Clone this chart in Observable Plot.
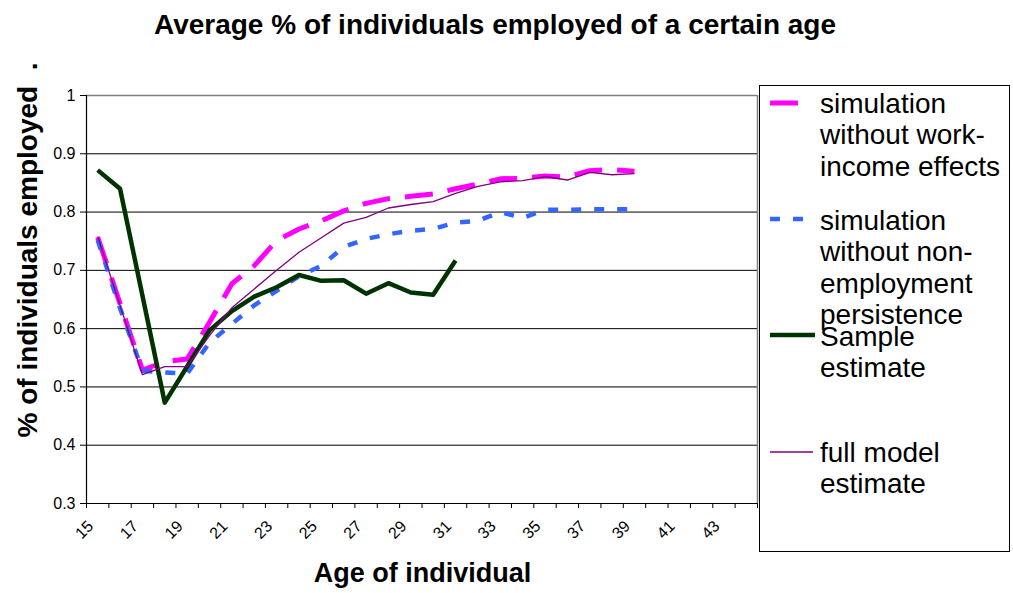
<!DOCTYPE html>
<html><head><meta charset="utf-8">
<script src="https://cdn.jsdelivr.net/npm/d3@7"></script>
<script src="https://cdn.jsdelivr.net/npm/@observablehq/plot@0.6"></script>
<style>
body{margin:0;background:#fff;font-family:"Liberation Sans",Arial,sans-serif;}
#wrap{position:relative;width:1013px;height:593px;overflow:hidden;}
#wrap > svg{position:absolute;left:0;top:0;}
</style></head><body><div id="wrap"></div>
<script>
// ---- data ----
const ages = d3.range(15, 45);                 // categories 15..44
const xTickLabels = [15,17,19,21,23,25,27,29,31,33,35,37,39,41,43];
const yTicks = [0.3,0.4,0.5,0.6,0.7,0.8,0.9,1];
const seriesNames = [
  "simulation without work-income effects",
  "simulation without non-employment persistence",
  "Sample estimate",
  "full model estimate"
];
// values from age 15 onward
const simNoWorkIncome = [0.757,0.643,0.529,0.543,0.548,0.611,0.677,0.708,0.751,0.771,0.785,0.802,0.815,0.823,0.827,0.831,0.840,0.848,0.857,0.858,0.862,0.860,0.871,0.873,0.870];
const simNoPersistence = [0.752,0.635,0.528,0.525,0.523,0.576,0.608,0.640,0.665,0.690,0.708,0.740,0.754,0.762,0.768,0.771,0.782,0.785,0.800,0.790,0.804,0.804,0.805,0.805,0.805];
const sampleEstimate = [0.872,0.840,0.657,0.473,0.535,0.597,0.630,0.655,0.671,0.692,0.682,0.683,0.660,0.678,0.662,0.658,0.717];
const fullModel = [0.758,0.640,0.521,0.535,0.535,0.588,0.636,0.668,0.700,0.731,0.756,0.781,0.791,0.807,0.813,0.818,0.832,0.844,0.852,0.854,0.861,0.855,0.868,0.864,0.866];

const seriesValues = [simNoWorkIncome, simNoPersistence, sampleEstimate, fullModel];
const seriesStyle = [
  {stroke:"#FF00FF", strokeWidth:5, dash:"28,15"},
  {stroke:"#3366FF", strokeWidth:4.5, dash:"10,13"},
  {stroke:"#003300", strokeWidth:4.5, dash:null},
  {stroke:"#800080", strokeWidth:1.3, dash:null}
];
const toRows = vals => vals.map((v,i) => ({age: ages[i], value: v}));

const boundaries = d3.range(14.5, 45, 1);
const yFmt = d => d === 1 ? "1" : d3.format(".1f")(d);

const lineMarks = seriesValues.map((vals, k) => Plot.line(toRows(vals), {
  x: "age", y: "value",
  stroke: seriesStyle[k].stroke,
  strokeWidth: seriesStyle[k].strokeWidth,
  strokeDasharray: seriesStyle[k].dash || undefined,
  strokeLinecap: "butt",
  strokeLinejoin: "round"
}));

const chart = Plot.plot({
  width: 1013, height: 593,
  marginLeft: 86, marginRight: 256, marginTop: 95, marginBottom: 90,
  style: {fontFamily: "'Liberation Sans', Arial, sans-serif", background: "transparent", color: "#000", overflow: "visible"},
  x: {type: "linear", domain: [14.5, 44.5]},
  y: {domain: [0.3, 1]},
  marks: [
    Plot.ruleY(yTicks, {stroke: "#000", strokeWidth: 1}),
    Plot.ruleY([1], {stroke: "#808080", strokeWidth: 1.5}),
    Plot.ruleX([44.5], {stroke: "#808080", strokeWidth: 1.5}),
    Plot.ruleX([14.5], {stroke: "#000", strokeWidth: 1.2}),
    // y axis ticks + labels
    Plot.axisY({ticks: yTicks, tickSize: 6, tickFormat: () => "", label: null}),
    Plot.text(yTicks, {x: 14.5, y: d => d, text: yFmt, textAnchor: "end", dx: -11,
      fontSize: 16, fill: "#000"}),
    // x axis: ticks at category boundaries, labels at every other category
    Plot.axisX({ticks: boundaries, tickSize: 5, tickFormat: () => "", label: null}),
    Plot.text(xTickLabels, {x: d => d, y: 0.3, text: d => String(d), rotate: -45,
      textAnchor: "end", dx: -7, dy: 20, fontSize: 16, fill: "#000"}),
    ...lineMarks
  ]
});
document.getElementById("wrap").appendChild(chart);

// ---- overlay: title, axis labels, legend ----
const svg = d3.select("#wrap").append("svg")
  .attr("width", 1013).attr("height", 593)
  .style("font-family", "'Liberation Sans', Arial, sans-serif");

svg.append("text").attr("x", 495).attr("y", 34).attr("text-anchor", "middle")
  .attr("font-size", 28).attr("font-weight", "bold").attr("fill", "#000")
  .text("Average % of individuals employed of a certain age");

svg.append("text").attr("x", 422.5).attr("y", 582).attr("text-anchor", "middle")
  .attr("font-size", 27).attr("font-weight", "bold").attr("fill", "#000")
  .text("Age of individual");

svg.append("text").attr("transform", "translate(37,250) rotate(-90)").attr("text-anchor", "middle")
  .attr("font-size", 28).attr("font-weight", "bold").attr("fill", "#000")
  .style("white-space", "pre")
  .text("% of individuals employed  .");

// legend
const lg = svg.append("g");
lg.append("rect").attr("x", 759.5).attr("y", 85.5).attr("width", 250).attr("height", 466)
  .attr("fill", "#fff").attr("stroke", "#000").attr("stroke-width", 1);

const legendLines = [
  ["simulation", "without work-", "income effects"],
  ["simulation", "without non-", "employment", "persistence"],
  ["Sample", "estimate"],
  ["full model", "estimate"]
];
const legendSampleY = [103, 219, 335, 452];
const legendBaseline = [113, 230, 346, 462];
const legendSampleLen = [30, 45, 45, 43];
seriesNames.forEach((name, k) => {
  const st = seriesStyle[k];
  lg.append("line").attr("x1", 770).attr("x2", 770 + legendSampleLen[k])
    .attr("y1", legendSampleY[k]).attr("y2", legendSampleY[k])
    .attr("stroke", st.stroke).attr("stroke-width", st.strokeWidth)
    .attr("stroke-dasharray", st.dash ? st.dash : null);
  const t = lg.append("text").attr("x", 820).attr("y", legendBaseline[k])
    .attr("font-size", 28).attr("fill", "#000");
  legendLines[k].forEach((ln, j) => {
    t.append("tspan").attr("x", 820).attr("dy", j === 0 ? 0 : 31.3).text(ln);
  });
});
</script>
</body></html>
